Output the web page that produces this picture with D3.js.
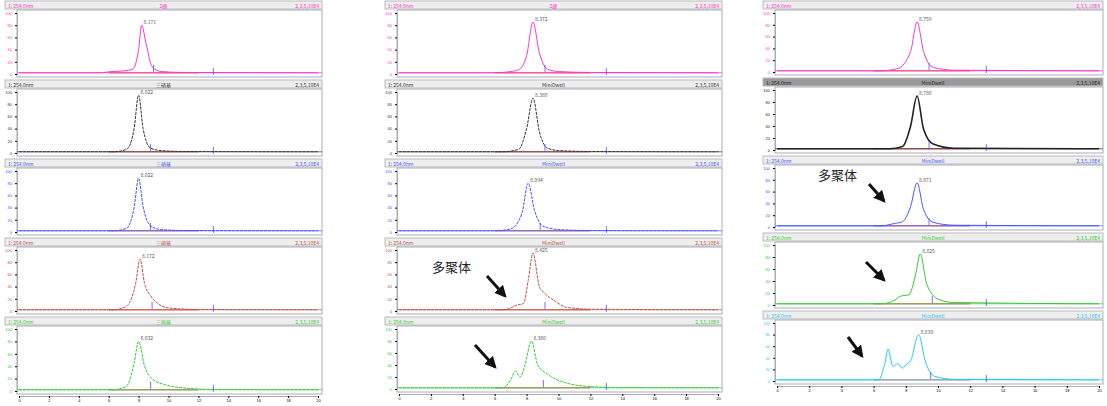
<!DOCTYPE html><html><head><meta charset="utf-8">
<script src="https://cdn.jsdelivr.net/npm/d3@7"></script>
<style>body{margin:0;background:#fff;font-family:"Noto Sans CJK SC","DejaVu Sans",sans-serif}</style></head><body>
<svg id="c" width="1107" height="406"></svg>
<script>
const colX=[[5,322],[385,722],[763,1103]];
const colY=[[0,79,158,237,316,396],[0,79,158,237,316,394],[0,77,155,232,310,386]];
const colors=[["#ff33cc","#333","#4455ff","#c0504d","#33cc33"],["#ff33cc","#333","#4455ff","#c0504d","#33cc33"],["#ff33cc","#222","#4455ff","#33cc33","#22ccee"]];
const titles=[["2峰","三硝基","三硝基","三硝基","三硝基"],["2峰","MiniDwell","MiniDwell","MiniDwell","MiniDwell"],["","MiniDwell","MiniDwell","MiniDwell","MiniDwell"]];
const sig=[
[[[0,2],[5.5,2],[6,3.5],[7,5],[7.6,8],[8,40],[8.2,80],[8.5,50],[8.9,12],[9.5,4],[11,2.5],[20,2]],
 [[0,2],[6.3,2],[7.2,6],[7.7,40],[8.0,95],[8.3,40],[8.8,8],[9.5,4],[11,2.5],[20,2]],
 [[0,2],[6.3,2],[7.2,6],[7.7,40],[8.0,88],[8.3,42],[8.8,10],[9.5,4],[11,2.5],[20,2]],
 [[0,2],[6.3,2],[7.2,8],[7.8,45],[8.1,85],[8.4,45],[8.8,25],[9.3,12],[10,5],[12,2.5],[20,2]],
 [[0,2],[6.3,2],[7.2,8],[7.7,45],[8.0,80],[8.4,40],[9.0,18],[9.8,10],[11,5],[13,2.5],[20,2]]],
[[[0,2],[6,2],[7,4],[7.5,7],[8.0,30],[8.4,85],[8.8,35],[9.3,8],[10,4],[12,2.5],[20,2]],
 [[0,2],[6.5,2],[7.5,6],[8.0,40],[8.4,90],[8.8,35],[9.3,8],[10,4],[12,2.5],[20,2]],
 [[0,2],[6,2],[7,5],[7.7,30],[8.1,80],[8.5,35],[9.0,10],[10,4],[12,2.5],[20,2]],
 [[0,2],[6.5,2],[7.1,6],[7.4,10],[7.8,12],[8.1,50],[8.4,95],[8.8,40],[9.1,30],[9.8,16],[10.5,6],[12,3],[20,2]],
 [[0,2],[6.5,2],[7.0,15],[7.3,30],[7.6,20],[7.9,40],[8.3,80],[8.7,40],[9.3,25],[10.5,10],[12,4],[14,2.5],[20,2]]],
[[[0,2],[6.5,2],[7.5,6],[8.3,35],[8.7,85],[9.1,35],[9.7,8],[11,3],[20,2]],
 [[0,2],[7,2],[7.8,6],[8.3,40],[8.7,90],[9.1,35],[9.7,10],[11,3],[20,2]],
 [[0,2],[6.5,2],[7.3,6],[7.8,9],[8.3,35],[8.7,75],[9.1,30],[9.7,8],[11,3],[20,2]],
 [[0,2],[6.5,2],[7.3,8],[7.7,15],[8.2,17],[8.6,50],[8.9,85],[9.3,35],[10,10],[11,4],[20,2]],
 [[0,2],[6.3,2],[6.7,30],[6.9,55],[7.2,25],[7.5,30],[7.8,22],[8.0,28],[8.3,35],[8.8,80],[9.2,35],[9.8,8],[11,3],[20,2]]]];
const peakLabels=[["8.171","8.022","8.022","8.172","8.032"],["8.372","8.380","8.094","8.425","8.380"],["8.759","8.780","8.871","8.825","8.830"]];
const svg=d3.select("#c");
const x=d3.scaleLinear().domain([0,20]);
colX.forEach((cx,c)=>{
  x.range([cx[0]+14,cx[1]-4]);
  for(let p=0;p<5;p++){
    const y0=colY[c][p],y1=colY[c][p+1];
    const g=svg.append("g");
    g.append("rect").attr("x",cx[0]).attr("y",y0+1).attr("width",cx[1]-cx[0]).attr("height",8).attr("fill",c==2&&p==1?"#999":"#eee").attr("stroke","#bbb");
    g.append("text").attr("x",cx[0]+3).attr("y",y0+8).attr("font-size",5).attr("fill",colors[c][p]).text("1: 254.0nm");
    g.append("text").attr("x",(cx[0]+cx[1])/2).attr("y",y0+8).attr("font-size",5).attr("fill",colors[c][p]).attr("text-anchor","middle").text(titles[c][p]);
    g.append("text").attr("x",cx[1]-3).attr("y",y0+8).attr("font-size",5).attr("fill",colors[c][p]).attr("text-anchor","end").text("2,3,5,10E4");
    g.append("rect").attr("x",cx[0]+12).attr("y",y0+10).attr("width",cx[1]-cx[0]-12).attr("height",y1-y0-12).attr("fill","none").attr("stroke","#aab");
    const y=d3.scaleLinear().domain([0,100]).range([y1-5,y0+13]);
    g.append("g").attr("transform",`translate(${cx[0]+12},0)`).call(d3.axisLeft(y).ticks(4).tickSize(2)).call(a=>{a.selectAll("text").attr("font-size",4).attr("fill",colors[c][p]);a.select(".domain").attr("stroke","#aab");});
    g.append("line").attr("x1",x(6)).attr("x2",x(12)).attr("y1",y(2)).attr("y2",y(2)).attr("stroke","#f08080").attr("stroke-width",1.4);
    g.append("line").attr("x1",cx[0]+12).attr("x2",cx[1]).attr("y1",y(2)).attr("y2",y(2)).attr("stroke",colors[c][p]).attr("stroke-width",0.7);
    const d=sig[c][p];
    g.append("path").attr("d",d3.line().x(e=>x(e[0])).y(e=>y(e[1])).curve(d3.curveMonotoneX)(d))
      .attr("fill","none").attr("stroke",colors[c][p]).attr("stroke-width",c==2&&p==1?1.6:1).attr("stroke-dasharray",(c<2&&p>0)?"3,1":null);
    const pk=d.reduce((a,b)=>b[1]>a[1]?b:a);
    g.append("text").attr("x",x(pk[0])+2).attr("y",y(pk[1])-1).attr("font-size",5).attr("fill","#555").text(peakLabels[c][p]);
    [[x(pk[0])+12,y(10)],[x(13),y(5)]].forEach(q=>g.append("line").attr("x1",q[0]).attr("x2",q[0]).attr("y1",q[1]-3).attr("y2",q[1]+4).attr("stroke","#33f").attr("stroke-width",0.7));
  }
  const by=colY[c][5];
  svg.append("g").attr("transform",`translate(0,${by})`).call(d3.axisBottom(x).ticks(10).tickSize(2).tickPadding(1)).call(a=>{a.selectAll("text").attr("font-size",4);a.select(".domain").attr("stroke","#aab");});
});
svg.append("defs").append("marker").attr("id","ar").attr("viewBox","0 0 10 10").attr("refX",8).attr("refY",5).attr("markerWidth",4).attr("markerHeight",4).attr("orient","auto").append("path").attr("d","M0,0L10,5L0,10z").attr("fill","#111");
const ann=[[432,272,"多聚体"],[818,180,"多聚体"]];
ann.forEach(a=>svg.append("text").attr("x",a[0]).attr("y",a[1]).attr("font-size",13).attr("fill","#222").text(a[2]));
const arrows=[[487,276,505,296],[475,345,495,367],[869,184,884,201],[866,262,884,280],[848,337,862,356]];
arrows.forEach(a=>svg.append("line").attr("x1",a[0]).attr("y1",a[1]).attr("x2",a[2]).attr("y2",a[3]).attr("stroke","#111").attr("stroke-width",3).attr("marker-end","url(#ar)"));
</script></body></html>
